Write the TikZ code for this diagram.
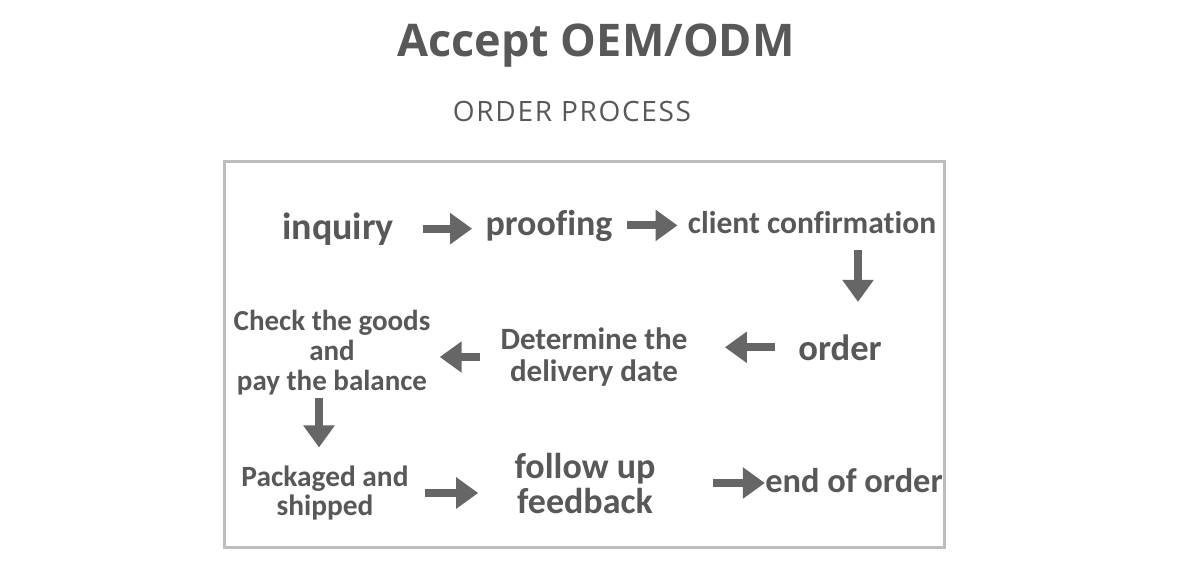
\documentclass[tikz,border=0pt]{standalone}
\usepackage{fontspec}
\usepackage{xcolor}
\usetikzlibrary{arrows.meta}
\setmainfont{Carlito}[Ligatures=NoCommon]
\newfontfamily\headfont{Open Sans}
\newfontfamily\subheadfont{Open Sans}[LetterSpace=6]
\definecolor{OPText}{HTML}{585858}
\definecolor{OPArrow}{HTML}{666666}
\definecolor{OPFrame}{HTML}{BDBDBD}
\tikzset{
  stage/.style={text=OPText,inner sep=0pt,align=center},
  fatarrow/.style={OPArrow,line width=4pt,-{Triangle[length=11pt,width=15pt]}}
}
\begin{document}
\begin{tikzpicture}[x=0.5pt,y=0.5pt]
\path[use as bounding box] (0,0) rectangle (1181,574);
\fill[white] (0,0) rectangle (1181,574);
\node[anchor=base,text=OPText,font=\headfont\bfseries\fontsize{22.5}{24}\selectfont] (title) at (596,517) {Accept OEM/ODM};
\node[anchor=base,text=OPText,font=\subheadfont\fontsize{14}{16}\selectfont] (subtitle) at (572,452) {ORDER PROCESS};
\draw[OPFrame,line width=1.5pt] (224,27) rectangle (944,413);
\node[stage,anchor=base,font=\bfseries\fontsize{19}{19}\selectfont] (inquiry) at (338,335) {inquiry};
\node[stage,anchor=base,font=\bfseries\fontsize{18}{18}\selectfont] (proofing) at (549,339) {proofing};
\node[stage,anchor=base,font=\bfseries\fontsize{15.75}{16}\selectfont] (confirm) at (812,341) {client confirmation};
\node[stage,anchor=base,font=\bfseries\fontsize{18.3}{18}\selectfont] (order) at (840,214) {order};
\node[stage,font=\bfseries\fontsize{15.5}{16}\selectfont] (delivery) at (594,217) {Determine the\\delivery date};
\node[stage,font=\bfseries\fontsize{14.5}{15}\selectfont] (check) at (332,221) {Check the goods\\and\\pay the balance};
\node[stage,font=\bfseries\fontsize{14.7}{14.5}\selectfont] (shipped) at (325,81) {Packaged and\\shipped};
\node[stage,font=\bfseries\fontsize{18}{17.5}\selectfont] (feedback) at (585,91) {follow up\\feedback};
\node[stage,anchor=base,font=\bfseries\fontsize{17.2}{17}\selectfont] (end) at (854,82) {end of order};
\draw[fatarrow,shorten <=14.5pt,shorten >=6.5pt] (inquiry.east) -- (inquiry.east -| proofing.west);
\draw[fatarrow,shorten <=7pt,shorten >=5pt] (proofing.east) -- (proofing.east -| confirm.west);
\draw[fatarrow,shorten <=8pt,shorten >=16pt] ([xshift=23pt]confirm.south) -- ([xshift=23pt]confirm.south |- order.north);
\draw[fatarrow,shorten <=11.5pt,shorten >=18.5pt] (order.west) -- (order.west -| delivery.east);
\draw[fatarrow,shorten <=10pt,shorten >=4.5pt] (delivery.west) -- (delivery.west -| check.east);
\draw[fatarrow,shorten <=1pt,shorten >=9pt] ([xshift=-6.5pt]check.south) -- ([xshift=-6.5pt]check.south |- shipped.north);
\draw[fatarrow,shorten <=8pt,shorten >=18pt] (shipped.east) -- (shipped.east -| feedback.west);
\draw[fatarrow,shorten <=28.5pt,shorten >=0pt] (feedback.east) -- (feedback.east -| end.west);
\end{tikzpicture}
\end{document}
